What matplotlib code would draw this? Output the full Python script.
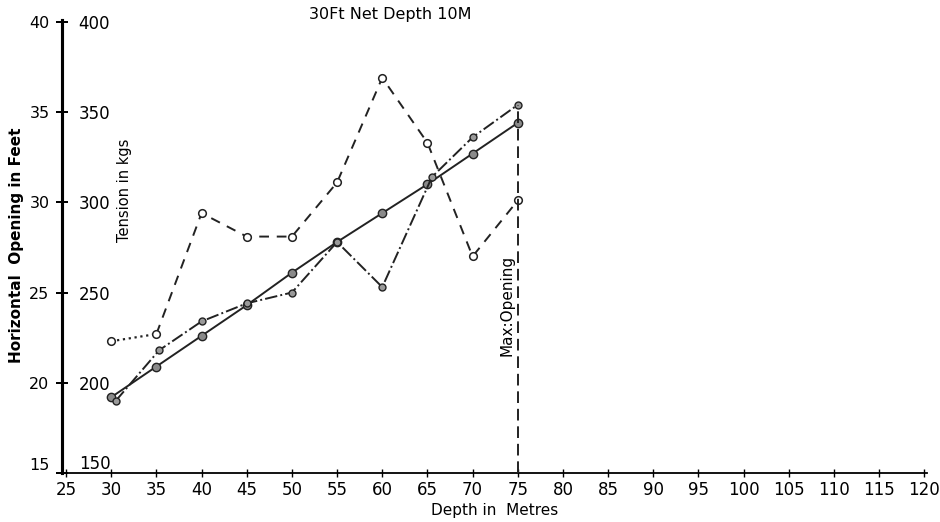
import matplotlib.pyplot as plt
import numpy as np

# depth in metres
depth = [30, 35, 40, 45, 50, 55, 60, 65, 70, 75]
depth_dd = [30.5, 35.3, 40, 45, 50, 55, 60, 65.5, 70, 75]

# horizontal opening in feet (solid and dash-dot curves)
opening_a = [19.2, 20.9, 22.6, 24.3, 26.1, 27.8, 29.4, 31.0, 32.7, 34.4]
opening_b = [19.0, 21.8, 23.4, 24.4, 25.0, 27.8, 25.3, 31.4, 33.6, 35.4]

# tension in kgs (dashed curve)
tension = [223, 227, 294, 281, 281, 311, 369, 333, 270, 301]

x_ticks = list(range(25, 125, 5))
ft_ticks = [15, 20, 25, 30, 35, 40]
kg_ticks = [150, 200, 250, 300, 350, 400]
max_open_depth = 75

plt.rcParams['font.family'] = 'DejaVu Sans'

fig = plt.figure(figsize=(9.4, 5.22), dpi=100)
ax = fig.add_axes([62 / 940, 49 / 522, 865 / 940, 453 / 522])

ax.plot(depth, opening_a, '-', color='#222222', lw=1.4,
        marker='o', ms=6, mfc='#8a8a8a', mec='#222222', mew=1.0)
ax.plot(depth_dd, opening_b, '-.', color='#222222', lw=1.4,
        marker='o', ms=5, mfc='#9a9a9a', mec='#222222', mew=1.0)

ax2 = ax.twinx()
# first segment is dotted on the original
ax2.plot(depth[:2], tension[:2], ':', color='#222222', lw=1.6)
ax2.plot(depth[1:], tension[1:], '--', color='#222222', lw=1.4, dashes=(5, 4))
ax2.plot(depth, tension, 'o', ms=5.5, mfc='white', mec='#222222', mew=1.1)

# max opening marker line
ax2.vlines(max_open_depth, 150, max(opening_b) * 10, colors='#222222',
           linestyles=(0, (6, 3)), lw=1.4)
ax2.text(max_open_depth - 1.2, 243, 'Max:Opening', rotation=90,
         ha='center', va='center', fontsize=11)

ax.set_xlim(24.55, 120.3)
ax.set_ylim(15, 40.1)
ax2.set_ylim(150, 401)

for s in ['top', 'right']:
    ax.spines[s].set_visible(False)
for s in ['top', 'left', 'bottom']:
    ax2.spines[s].set_visible(False)
ax2.spines['right'].set_position(('axes', 0))
ax.spines['left'].set_linewidth(2.2)
ax.spines['bottom'].set_linewidth(1.3)
ax2.spines['right'].set_linewidth(2.2)

ax.set_xticks(x_ticks)
ax.set_yticks(ft_ticks)
ax2.set_yticks(kg_ticks)
ax.tick_params(axis='x', direction='inout', length=6, width=1, labelsize=12, pad=3)
ax.tick_params(axis='y', direction='inout', length=8, width=1.3, labelsize=11.5, pad=5)
ax2.tick_params(axis='y', direction='inout', length=8, width=1.3, labelsize=12, pad=8)
ax2.get_yticklabels()[0].set_va('bottom')
ax.get_yticklabels()[0].set_va('bottom')

ax.set_xlabel('Depth in  Metres', fontsize=11, labelpad=3)
fig.text(17 / 940, 1 - 245 / 522, 'Horizontal  Opening in Feet', rotation=90,
         ha='center', va='center', fontsize=11, fontweight='bold')
fig.text(124 / 940, 1 - 190 / 522, 'Tension in kgs', rotation=90,
         ha='center', va='center', fontsize=10.5)
fig.text(390 / 940, 1 - 15 / 522, '30Ft Net Depth 10M', ha='center', va='center',
         fontsize=11.5)

fig.savefig('out.png', dpi=100)
